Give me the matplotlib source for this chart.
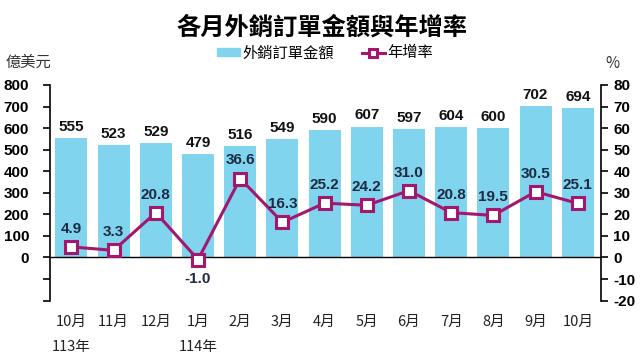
import matplotlib
matplotlib.use("Agg")
import matplotlib.pyplot as plt
from matplotlib.patches import Patch
from matplotlib.lines import Line2D

months = ['10月', '11月', '12月', '1月', '2月', '3月', '4月', '5月', '6月', '7月', '8月', '9月', '10月']
years = ['113年', '', '', '114年', '', '', '', '', '', '', '', '', '']
orders = [555, 523, 529, 479, 516, 549, 590, 607, 597, 604, 600, 702, 694]
growth = [4.9, 3.3, 20.8, -1.0, 36.6, 16.3, 25.2, 24.2, 31.0, 20.8, 19.5, 30.5, 25.1]

cjk = ['Noto Sans CJK TC', 'DejaVu Sans']
num_font = 'Liberation Sans'
bar_color = '#80D4EE'
line_color = '#A3176E'

fig = plt.figure(figsize=(6.4, 3.6), dpi=100)
ax = fig.add_axes([0.078, 0.165, 0.861, 0.599])
ax2 = ax.twinx()

x = list(range(len(months)))
ax.bar(x, orders, width=0.76, color=bar_color, zorder=1)
ax.axhline(0, color='black', lw=1.0, zorder=2)
for xi, v in zip(x, orders):
    ax.annotate(str(v), (xi, v), xytext=(0, 3), textcoords='offset points',
                ha='center', va='bottom', fontsize=11, fontweight='bold',
                family=num_font, color='#111111')

ax2.plot(x, growth, color=line_color, lw=2.2, marker='s', markersize=8,
         markerfacecolor='white', markeredgecolor=line_color, markeredgewidth=2.2, zorder=3)
for xi, v in zip(x, growth):
    if v < 0:
        off, va = -9, 'top'
    else:
        off, va = 8, 'bottom'
    ax2.annotate(f'{v:.1f}', (xi, v), xytext=(0, off), textcoords='offset points',
                 ha='center', va=va, fontsize=11, fontweight='bold',
                 family=num_font, color='#1F2A44')

ax.set_xlim(-0.51, 12.55)
ax.set_ylim(-200, 800)
ax2.set_ylim(-20, 80)
ax.set_yticks(range(-200, 801, 100))
ax.set_yticklabels(['', ''] + [str(v) for v in range(0, 801, 100)])
ax2.set_yticks(range(-20, 81, 10))
ax2.set_yticklabels([str(v) for v in range(-20, 81, 10)])

for a in (ax, ax2):
    for s in ('top', 'bottom'):
        a.spines[s].set_visible(False)
    for lab in a.get_yticklabels():
        lab.set_fontfamily(num_font)
        lab.set_fontweight('bold')
        lab.set_fontsize(11)
ax.spines['right'].set_visible(False)
ax2.spines['left'].set_visible(False)
ax.spines['left'].set_linewidth(1.2)
ax2.spines['right'].set_linewidth(1.2)
ax.tick_params(axis='y', length=5, width=1.2, pad=10)
ax2.tick_params(axis='y', length=5, width=1.2, pad=4)

ax.set_xticks(x)
ax.set_xticklabels(months, family=cjk, fontsize=10.5, color='#222222')
ax.tick_params(axis='x', length=0, pad=10)
for xi, yl in zip(x, years):
    if yl:
        ax.text(xi, -0.215, yl, transform=ax.get_xaxis_transform(), ha='center',
                va='center', family=cjk, fontsize=10.5, color='#222222')

fig.text(0.503, 1 - 28 / 360, '各月外銷訂單金額與年增率', ha='center', va='center',
         family=cjk, fontsize=17.5, fontweight='bold')
fig.text(0.008, 1 - 62 / 360, '億美元', ha='left', va='center', family=cjk,
         fontsize=11, color='#333333')
fig.text(0.957, 1 - 63 / 360, '%', ha='center', va='center', family=cjk,
         fontsize=11, color='#333333')

handles = [Patch(color=bar_color),
           Line2D([0], [0], color=line_color, lw=2.2, marker='s', markersize=6,
                  markerfacecolor='white', markeredgecolor=line_color, markeredgewidth=2.2)]
fig.legend(handles, ['外銷訂單金額', '年增率'], loc='center', ncol=2,
           bbox_to_anchor=(0.508, 1 - 53 / 360), frameon=False,
           prop={'family': cjk, 'size': 11}, handlelength=1.5, handleheight=0.5,
           handletextpad=0.2, columnspacing=1.8)

fig.savefig('out.png', dpi=100)
